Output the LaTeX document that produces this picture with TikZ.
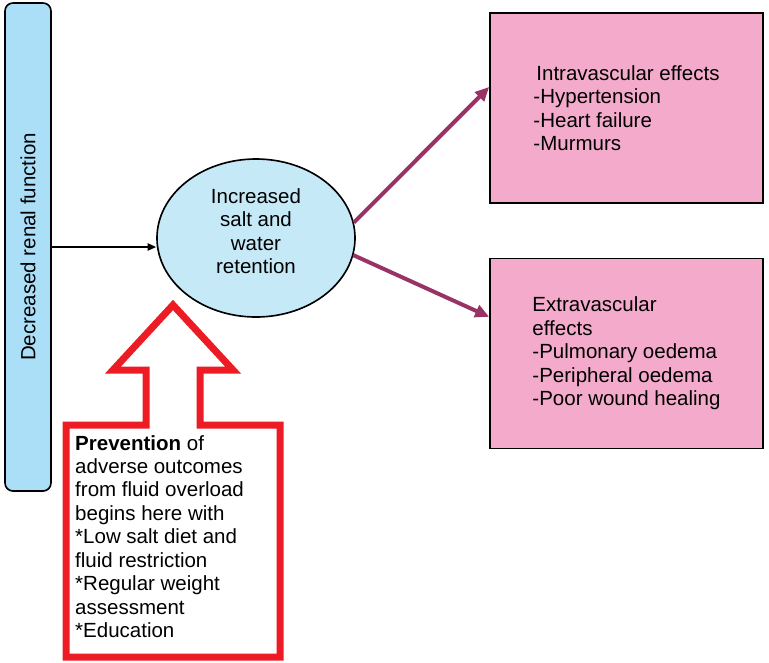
\documentclass[tikz,border=0pt]{standalone}
\usepackage{fontspec}
\setmainfont{Liberation Sans}
\usepackage{tikz}
\usetikzlibrary{arrows.meta, shapes.geometric}
\definecolor{barblue}{RGB}{171,223,248}
\definecolor{ellblue}{RGB}{198,233,248}
\definecolor{effpink}{RGB}{243,170,203}
\definecolor{plum}{RGB}{153,51,102}
\definecolor{alertred}{RGB}{237,28,36}
\def\pix{0.03cm}
\def\txt{\fontsize{17.5}{20}\selectfont}
\begin{document}
\begin{tikzpicture}[
    x=\pix, y=-\pix,
    every node/.style={font=\txt, inner sep=0pt},
    bar/.style={rectangle, rounded corners=0.24cm, draw, line width=1.4pt, fill=barblue, minimum width=1.38cm, minimum height=14.64cm},
    retain/.style={ellipse, draw, line width=1.4pt, fill=ellblue, minimum width=5.94cm, minimum height=4.74cm},
    effect/.style={rectangle, draw, line width=1.4pt, fill=effpink, minimum width=8.19cm, minimum height=5.7cm, align=left},
    flow/.style={line width=3.4pt, draw=plum, -{Triangle[length=0.42cm, width=0.38cm]}},
    prevline/.style={draw=alertred, fill=white, line width=0.21cm, line join=miter}
]
\useasboundingbox (0,0) rectangle (769,662);

% left bar and centre
\node[bar] (renal) at (28,247) {\rotatebox{90}{Decreased renal function}};
\node[retain] (ret) at (256,238) {};
\node[align=center] (rettext) at (256,231) {Increased\\salt and\\water\\retention};
\draw[line width=1.3pt, -{Triangle[length=0.26cm, width=0.22cm]}] (renal.east) -- (renal.east -| ret.west);

% effects
\node[effect] (intra) at (626.5,108) {\hspace{2.5pt}Intravascular effects\\-Hypertension\\-Heart failure\\-Murmurs};
\node[effect] (extra) at (626.5,353.5) {Extravascular\\effects\\-Pulmonary oedema\\-Peripheral oedema\\-Poor wound healing};
\draw[flow] (ret.9) -- ([yshift=0.63cm]intra.west);
\draw[flow] (ret.-10) -- ([yshift=1.1cm]extra.west);

% prevention arrow
\draw[prevline] (66,425) -- (146,425) -- (146,370) -- (113,370) -- (173,305) -- (233,370)
    -- (200,370) -- (200,425) -- (280,425) -- (280,657) -- (66,657) -- cycle;
\node[align=left, anchor=north west] (prevtext) at (75,435) {\textbf{Prevention} of\\adverse outcomes\\from fluid overload\\begins here with\\*Low salt diet and\\fluid restriction\\*Regular weight\\assessment\\*Education};
\end{tikzpicture}
\end{document}
